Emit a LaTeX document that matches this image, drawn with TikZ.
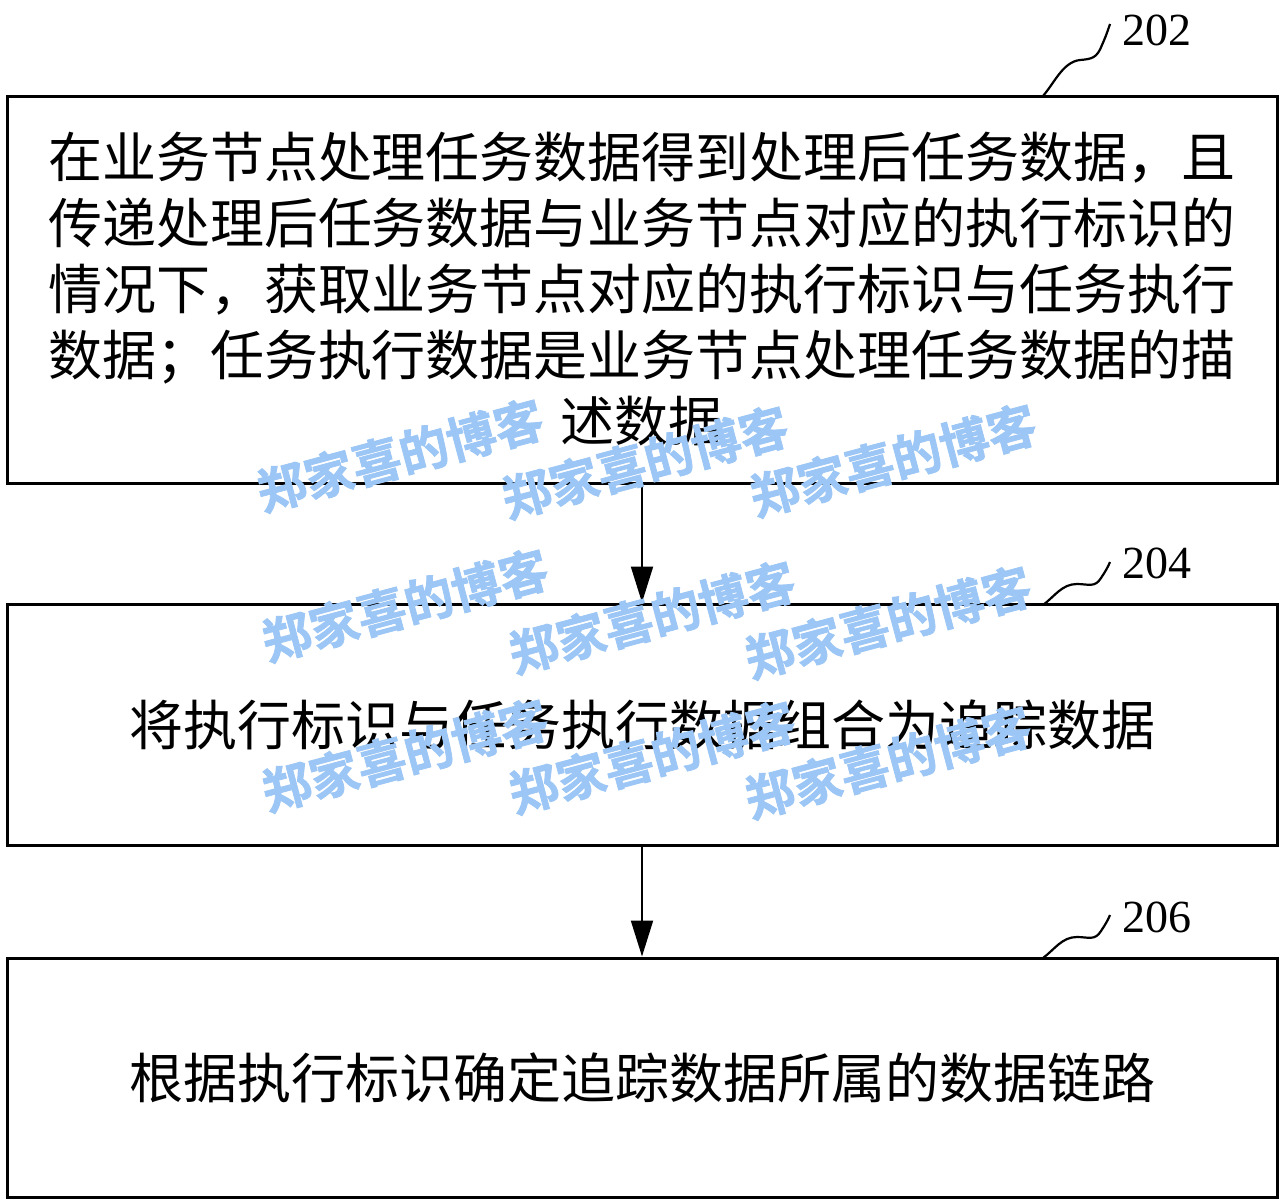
\documentclass[tikz,border=0pt]{standalone}
\usepackage{fontspec}
\setmainfont{Liberation Serif}
\newfontfamily\cjk{Noto Sans CJK SC}
\newfontfamily\cjkb[FakeBold=1.5]{Noto Sans CJK SC Bold}
\usetikzlibrary{arrows.meta}
\definecolor{wm}{RGB}{155,198,245}
\tikzset{
  stepbox/.style={draw=black, line width=3pt, minimum width=1270pt, inner sep=0pt, align=center,
    font=\cjk\fontsize{54pt}{66pt}\selectfont},
  flow/.style={line width=2pt, -{Triangle[length=36pt,width=22pt]}},
  leader/.style={line width=2.2pt},
  numlabel/.style={font=\fontsize{46pt}{50pt}\selectfont, inner sep=0pt},
  mark wm/.style={text=wm, rotate=15, inner sep=0pt, font=\cjkb\fontsize{49pt}{50pt}\selectfont}
}
\begin{document}
\begin{tikzpicture}[x=1pt,y=-1pt]
\useasboundingbox (0,0) rectangle (1280,1202);
\fill[white] (0,0) rectangle (1280,1202);

\node[stepbox, minimum height=387pt] (b1) at (642,289.5) {在业务节点处理任务数据得到处理后任务数据，且\\传递处理后任务数据与业务节点对应的执行标识的\\情况下，获取业务节点对应的执行标识与任务执行\\数据；任务执行数据是业务节点处理任务数据的描\\述数据};
\node[stepbox, minimum height=241pt] (b2) at (642,724.5) {将执行标识与任务执行数据组合为追踪数据};
\node[stepbox, minimum height=239pt] (b3) at (642,1077.5) {根据执行标识确定追踪数据所属的数据链路};

\draw[flow] (b1.south) -- (b2.north);
\draw[flow] (b2.south) -- (b3.north);

\node[numlabel] (n1) at (1157,30) {202};
\node[numlabel] (n2) at (1157,563) {204};
\node[numlabel] (n3) at (1157,917) {206};

\coordinate (s1) at (1043,96);
\coordinate (e1) at (1110,24);
\draw[leader] (s1) .. controls (1055,82) and (1063,62) .. (1080,60) .. controls (1092,59) and (1097,58) .. (1102,45) .. controls (1106,36) and (1108,30) .. (e1);

\coordinate (s2) at (1043,605);
\coordinate (e2) at (1110,562);
\draw[leader] (s2) .. controls (1055,596) and (1062,584) .. (1077,584) .. controls (1088,584) and (1095,588) .. (1101,578) .. controls (1105,572) and (1108,567) .. (e2);

\coordinate (s3) at (1043,958);
\coordinate (e3) at (1110,915);
\draw[leader] (s3) .. controls (1055,949) and (1062,937) .. (1077,937) .. controls (1088,937) and (1095,941) .. (1101,931) .. controls (1105,925) and (1108,920) .. (e3);

\node[mark wm] (w1) at (400,455) {郑家喜的博客};
\node[mark wm] (w2) at (645,462) {郑家喜的博客};
\node[mark wm] (w3) at (893,460) {郑家喜的博客};
\node[mark wm] (w4) at (405,605) {郑家喜的博客};
\node[mark wm] (w5) at (652,617) {郑家喜的博客};
\node[mark wm] (w6) at (888,622) {郑家喜的博客};
\node[mark wm] (w7) at (405,755) {郑家喜的博客};
\node[mark wm] (w8) at (652,757) {郑家喜的博客};
\node[mark wm] (w9) at (888,762) {郑家喜的博客};
\end{tikzpicture}
\end{document}
